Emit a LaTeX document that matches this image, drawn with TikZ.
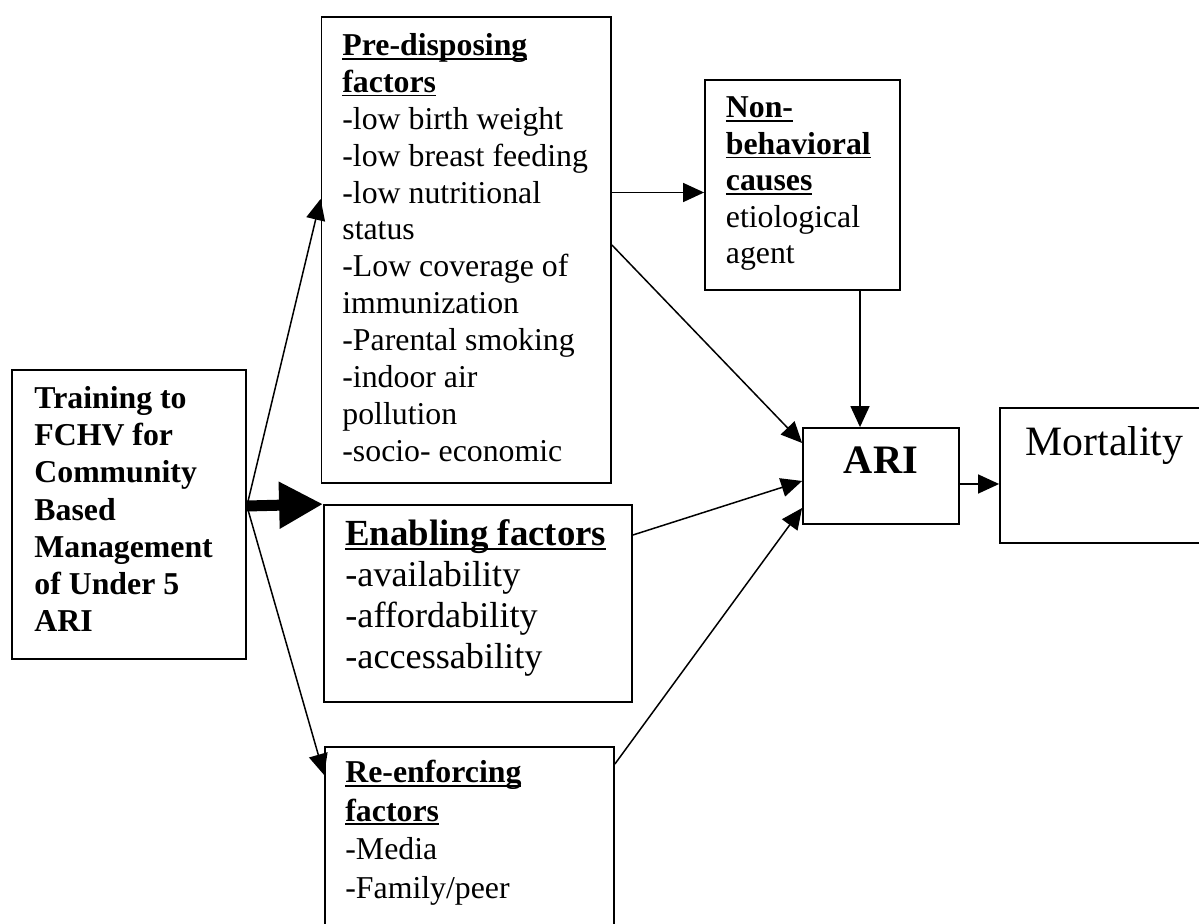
\documentclass[tikz,border=0pt]{standalone}
\usepackage{fontspec}
\setmainfont{Liberation Serif}
\usetikzlibrary{arrows.meta}
\newcommand\ulx[1]{\setbox0\hbox{#1}\rlap{\rule[-0.13em]{\wd0}{0.06em}}\box0}
\newcommand\fsz[2]{\fontsize{#1}{#2}\selectfont}
\begin{document}
\begin{tikzpicture}[x=0.5pt,y=-0.5pt,
  box/.style={draw, line width=0.9pt, inner sep=0pt},
  txt/.style={inner sep=0pt, anchor=north west, align=left},
  conn/.style={line width=0.75pt, -{Triangle[length=10.5pt,width=9.5pt]}},
  bigconn/.style={line width=5.5pt, -{Triangle[length=22pt,width=22pt]}}]
\useasboundingbox (0,0) rectangle (1199,924);
\fill[white] (0,0) rectangle (1199,924);

% boxes
\node[box, minimum width=117pt, minimum height=144.5pt] (T) at (129,514.5) {};
\node[box, minimum width=144.75pt, minimum height=233pt] (P) at (466.25,250) {};
\node[box, minimum width=97.5pt, minimum height=105pt] (N) at (802.5,185) {};
\node[box, minimum width=154pt, minimum height=98.5pt] (E) at (478,603.5) {};
\node[box, minimum width=144.5pt, minimum height=120pt] (R) at (469.5,867) {};
\node[box, minimum width=78pt, minimum height=48pt] (A) at (881,476) {};
\node[box, minimum width=220pt, minimum height=67.5pt] (M) at (1220,475.5) {};

% texts
\node[txt, font=\fsz{15.9}{18.6}\bfseries] (Ttext) at (34,382)
  {\strut Training to\\FCHV for\\Community\\Based\\Management\\of Under 5\\ARI};
\node[txt, font=\fsz{15.9}{18.45}] (Ptext) at (342,29.2)
  {\strut\textbf{\ulx{Pre-disposing}}\\\textbf{\ulx{factors}}\\-low birth weight\\-low breast feeding\\-low nutritional\\status\\-Low coverage of\\immunization\\-Parental smoking\\-indoor air\\pollution\\-socio- economic};
\node[txt, font=\fsz{15.9}{18.2}] (Ntext) at (725.5,92)
  {\strut\textbf{\ulx{Non-}}\\\textbf{\ulx{behavioral}}\\\textbf{\ulx{causes}}\\etiological\\agent};
\node[txt, font=\fsz{18.1}{20.6}] (Etext) at (345,516)
  {\strut{\fontsize{18.4}{20.6}\selectfont\bfseries\ulx{Enabling factors}}\\-availability\\-affordability\\-accessability};
\node[txt, font=\fsz{15.9}{19.3}] (Rtext) at (345,755)
  {\strut\textbf{\ulx{Re-enforcing}}\\\textbf{\ulx{factors}}\\-Media\\-Family/peer};
\node[inner sep=0pt, anchor=base, font=\fsz{20.2}{24}\bfseries] (Atext) at (881,474) {ARI};
\node[inner sep=0pt, anchor=base west, font=\fsz{20.9}{25}] (Mtext) at (1025,456) {Mortality};

% connectors
\coordinate (src) at (T.east |- 0,506);
\draw[conn] (src) -- (P.west |- 0,199);
\draw[bigconn] (src) -- (E.north west);
\draw[conn] (src) -- (R.west |- 0,775);
\draw[conn] (P.east |- 0,192.5) -- (N.west |- 0,192.5);
\draw[conn] (P.east |- 0,245) -- (A.west |- 0,443);
\draw[conn] (N.south -| 860,0) -- (A.north -| 860,0);
\draw[conn] (E.east |- 0,535) -- (A.west |- 0,481);
\draw[conn] (R.east |- 0,764) -- (A.west |- 0,508);
\draw[conn] (A.east |- 0,484) -- (M.west |- 0,484);
\end{tikzpicture}
\end{document}
